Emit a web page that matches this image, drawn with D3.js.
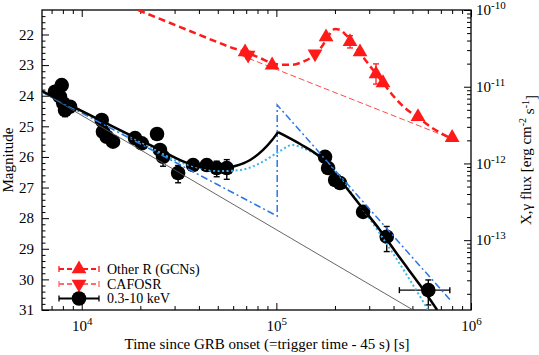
<!DOCTYPE html>
<html>
<head>
<meta charset="utf-8">
<script src="https://cdn.jsdelivr.net/npm/d3@7"></script>
<style>
    body { margin: 0; background: #fff; }
    svg { display: block; font-family: "Liberation Serif", "DejaVu Serif", serif; }
    svg text { font-family: "Liberation Serif", "DejaVu Serif", serif; }
</style>
</head>
<body>
<div id="chart"></div>
<script>
// X-ray light curve, 0.3-10 keV (right axis, flux)
const xrayTime = [7290, 7890, 7730, 8040, 8710, 8210, 12670, 12860, 13440, 14480, 18790, 20330, 24370,
    25240, 26170, 31270, 37330, 43880, 49370, 55610, 177900, 184400, 200500, 212500, 279000, 369000, 603500];
const xrayFlux = [8.61e-12, 1.05e-11, 7.41e-12, 6.08e-12, 5.49e-12, 4.97e-12, 3.68e-12, 2.59e-12, 2.23e-12,
    1.92e-12, 2.14e-12, 1.83e-12, 2.42e-12, 1.50e-12, 1.22e-12, 7.50e-13, 9.53e-13, 9.53e-13, 8.71e-13,
    8.71e-13, 1.22e-12, 8.71e-13, 6.08e-13, 5.55e-13, 2.34e-13, 1.11e-13, 2.23e-14];
const xrayFluxErr = [0.4e-12, 0.5e-12, 0.4e-12, 0.3e-12, 0.3e-12, 0.9e-12, 0.2e-12, 0.15e-12, 0.15e-12,
    0.12e-12, 0.12e-12, 0.1e-12, 0.12e-12, 0.1e-12, 0.3e-12, 1.9e-13, 0.5e-13, 0.5e-13, 2.0e-13,
    2.5e-13, 0.6e-13, 0.5e-13, 0.4e-13, 0.3e-13, 0.15e-13, 0.4e-13, 0.8e-14];
const xrayTimeErr = [0, 0, 0, 0, 0, 0, 0, 0, 0, 0, 0, 0, 0, 0, 0, 0, 0, 0, 0, 0, 0, 0, 0, 0, 0, 0, 175000];

// optical R band (left axis, magnitude)
const otherRTime = [69060, 95100, 180000, 239000, 269000, 325000, 353000, 534000, 800000];
const otherRMag = [22.57, 23.00, 22.08, 22.24, 22.57, 23.29, 23.58, 24.69, 25.37];
const otherRErr = [0.1, 0.05, 0.05, 0.2, 0.05, 0.33, 0.05, 0.05, 0.05];
const cafosTime = [71600, 158000];
const cafosMag = [22.67, 22.63];
const cafosErr = [0.12, 0.05];

// model curves
const totalRiseTime = [6250, 9800, 15730, 25240, 33950, 43050, 51470, 61440, 73350, 85480, 95100, 102000];
const totalRiseFlux = [8.79e-12, 4.97e-12, 2.72e-12, 1.50e-12, 1.04e-12, 8.71e-13, 8.45e-13, 9.25e-13,
    1.11e-12, 1.50e-12, 2.02e-12, 2.56e-12];
const totalDecayTime = [102000, 132500, 167900, 212500, 269000, 341000, 432000, 547000, 670000];
const totalDecayFlux = [2.56e-12, 1.79e-12, 1.21e-12, 6.08e-13, 2.87e-13, 1.35e-13, 5.84e-14, 2.60e-14, 1.23e-14];
const smoothTime = [6250, 12420, 22440, 31990, 40550, 51470, 65160, 82440, 104500, 120500, 140600,
    167900, 212500, 269000, 353000, 458000, 602000];
const smoothFlux = [8.53e-12, 3.68e-12, 1.64e-12, 1.04e-12, 8.71e-13, 7.96e-13, 8.20e-13, 1.01e-12,
    1.45e-12, 1.74e-12, 1.54e-12, 1.21e-12, 6.46e-13, 2.87e-13, 1.06e-13, 3.84e-14, 1.23e-14];
const jumpTime = [6250, 101000, 101000, 782000];
const jumpFlux = [8.53e-12, 2.06e-13, 5.77e-12, 1.66e-14];
const powerTime = [6250, 504000];
const powerFlux = [8.53e-12, 1.23e-14];

const opticalModelTime = [17300, 25240, 40550, 57830, 69060, 82440, 95100, 107000, 120500, 135600, 152600,
    167900, 180100, 191100, 200300, 212500, 228200, 247800, 269000, 302800, 341000, 398000, 458000,
    528000, 631000, 800000];
const opticalModelMag = [21.07, 21.49, 22.02, 22.41, 22.57, 22.77, 22.93, 22.99, 22.99, 22.90, 22.73,
    22.47, 22.18, 21.92, 21.82, 21.85, 22.02, 22.28, 22.60, 23.03, 23.45, 24.00, 24.40, 24.69, 25.05, 25.41];
const opticalPowerTime = [65160, 800000];
const opticalPowerMag = [22.67, 25.41];

// axes
const timeDomain = [6250, 1e6];
const magDomain = [31, 21.2];
const fluxDomain = [1.23e-14, 1e-10];
const timeMajor = [1e4, 1e5, 1e6];
const magMajor = [22, 23, 24, 25, 26, 27, 28, 29, 30, 31];
const fluxMajor = [1e-13, 1e-12, 1e-11, 1e-10];
const legendLabels = ['Other R (GCNs)', 'CAFOSR', '0.3-10 keV'];

const FONT = '"Liberation Serif", "DejaVu Serif", serif';
const zip = (a, b) => a.map((v, i) => [v, b[i]]);

document.addEventListener('DOMContentLoaded', () => drawChart(document.getElementById('chart')));

function drawChart(container) {
    const width = 539, height = 355;
    const margin = {top: 10, right: 68, bottom: 45, left: 42};
    const innerW = width - margin.left - margin.right;
    const innerH = height - margin.top - margin.bottom;

    const svg = d3.select(container).append('svg')
        .attr('width', width)
        .attr('height', height)
        .attr('font-family', FONT);
    const g = svg.append('g')
        .attr('transform', `translate(${margin.left},${margin.top})`);

    const x = d3.scaleLog().domain(timeDomain).range([0, innerW]);
    const yMag = d3.scaleLinear().domain(magDomain).range([innerH, 0]);
    const yFlux = d3.scaleLog().domain(fluxDomain).range([innerH, 0]);

    svg.append('defs').append('clipPath').attr('id', 'plot-clip')
        .append('rect').attr('width', innerW).attr('height', innerH);

    // minor tick values
    const timeMinor = [];
    [1e3, 1e4, 1e5].forEach(dec => d3.range(2, 10).forEach(k => {
        const v = k * dec;
        if (v > timeDomain[0] && v < timeDomain[1]) timeMinor.push(v);
    }));
    const fluxMinor = [];
    [1e-14, 1e-13, 1e-12, 1e-11].forEach(dec => d3.range(2, 10).forEach(k => {
        const v = k * dec;
        if (v > fluxDomain[0] && v < fluxDomain[1]) fluxMinor.push(v);
    }));
    const magMinor = d3.range(21.4, 31, 0.2).filter(v => Math.abs(v - Math.round(v)) > 0.01);

    const styleAxis = sel => {
        sel.attr('font-family', FONT);
        sel.select('.domain').remove();
        sel.selectAll('.tick line').attr('stroke', '#000').attr('stroke-width', 1);
        sel.selectAll('.tick text').attr('fill', '#000').attr('font-size', '15px');
    };
    const powerLabel = sel => sel.selectAll('.tick text').each(function(d) {
        const t = d3.select(this);
        t.text('10');
        t.append('tspan').attr('dy', '-0.55em').attr('font-size', '11px')
            .text(Math.round(Math.log10(d)));
    });

    // bottom / top
    g.append('g').attr('transform', `translate(0,${innerH})`)
        .call(d3.axisBottom(x).tickValues(timeMajor).tickSizeInner(-7).tickPadding(10).tickFormat(d => d))
        .call(styleAxis).call(powerLabel);
    g.append('g').attr('transform', `translate(0,${innerH})`)
        .call(d3.axisBottom(x).tickValues(timeMinor).tickSizeInner(-4).tickFormat(''))
        .call(styleAxis);
    g.append('g')
        .call(d3.axisTop(x).tickValues(timeMajor).tickSizeInner(-7).tickFormat(''))
        .call(styleAxis);
    g.append('g')
        .call(d3.axisTop(x).tickValues(timeMinor).tickSizeInner(-4).tickFormat(''))
        .call(styleAxis);

    // left magnitude
    g.append('g')
        .call(d3.axisLeft(yMag).tickValues(magMajor).tickSizeInner(-7).tickPadding(8).tickFormat(d3.format('d')))
        .call(styleAxis);
    g.append('g')
        .call(d3.axisLeft(yMag).tickValues(magMinor).tickSizeInner(-3.5).tickFormat(''))
        .call(styleAxis);

    // right flux
    g.append('g').attr('transform', `translate(${innerW},0)`)
        .call(d3.axisRight(yFlux).tickValues(fluxMajor).tickSizeInner(-7).tickPadding(5).tickFormat(d => d))
        .call(styleAxis).call(powerLabel);
    g.append('g').attr('transform', `translate(${innerW},0)`)
        .call(d3.axisRight(yFlux).tickValues(fluxMinor).tickSizeInner(-4).tickFormat(''))
        .call(styleAxis);

    g.append('rect')
        .attr('width', innerW).attr('height', innerH)
        .attr('fill', 'none').attr('stroke', '#000').attr('stroke-width', 1.3);

    // axis titles
    svg.append('text')
        .attr('x', 267).attr('y', 349)
        .attr('text-anchor', 'middle').attr('font-size', '15px')
        .text('Time since GRB onset (=trigger time - 45 s) [s]');
    svg.append('text')
        .attr('transform', 'translate(13,160) rotate(-90)')
        .attr('text-anchor', 'middle').attr('font-size', '15px')
        .text('Magnitude');
    const rTitle = svg.append('text')
        .attr('transform', 'translate(531,160) rotate(-90)')
        .attr('text-anchor', 'middle').attr('font-size', '15px');
    rTitle.append('tspan').text('X,γ flux [erg cm');
    rTitle.append('tspan').attr('dy', '-0.5em').attr('font-size', '10px').text('-2');
    rTitle.append('tspan').attr('dy', '0.5em').text(' s');
    rTitle.append('tspan').attr('dy', '-0.5em').attr('font-size', '10px').text('-1');
    rTitle.append('tspan').attr('dy', '0.5em').text(']');

    const plot = g.append('g').attr('clip-path', 'url(#plot-clip)');

    const fluxLine = curve => d3.line().x(d => x(d[0])).y(d => yFlux(d[1])).curve(curve);
    const magLine = curve => d3.line().x(d => x(d[0])).y(d => yMag(d[1])).curve(curve);

    // X-ray data points
    const xray = xrayTime.map((t, i) => ({t, f: xrayFlux[i], fe: xrayFluxErr[i], te: xrayTimeErr[i]}));
    const errG = plot.append('g').attr('stroke', '#000').attr('stroke-width', 1.4);
    xray.forEach(d => {
        const cx = x(d.t), cy = yFlux(d.f);
        const y1 = yFlux(d.f + d.fe), y2 = yFlux(Math.max(d.f - d.fe, 1e-16));
        errG.append('line').attr('x1', cx).attr('x2', cx).attr('y1', y1).attr('y2', y2);
        errG.append('line').attr('x1', cx - 3).attr('x2', cx + 3).attr('y1', y1).attr('y2', y1);
        errG.append('line').attr('x1', cx - 3).attr('x2', cx + 3).attr('y1', y2).attr('y2', y2);
        if (d.te > 0) {
            const x1 = x(d.t - d.te), x2 = x(d.t + d.te);
            errG.append('line').attr('x1', x1).attr('x2', x2).attr('y1', cy).attr('y2', cy);
            errG.append('line').attr('x1', x1).attr('x2', x1).attr('y1', cy - 3).attr('y2', cy + 3);
            errG.append('line').attr('x1', x2).attr('x2', x2).attr('y1', cy - 3).attr('y2', cy + 3);
        }
    });
    plot.selectAll('.xray-point')
        .data(xray)
        .enter()
        .append('circle')
        .attr('class', 'xray-point')
        .attr('cx', d => x(d.t))
        .attr('cy', d => yFlux(d.f))
        .attr('r', 7.3)
        .attr('fill', '#000');

    // X-ray models
    plot.append('path')
        .datum(zip(powerTime, powerFlux))
        .attr('d', fluxLine(d3.curveLinear))
        .attr('fill', 'none').attr('stroke', '#555').attr('stroke-width', 0.9);
    plot.append('path')
        .datum(zip(jumpTime, jumpFlux))
        .attr('d', fluxLine(d3.curveLinear))
        .attr('fill', 'none').attr('stroke', '#2a78e4').attr('stroke-width', 1.5)
        .attr('stroke-dasharray', '7,3,2,3');
    plot.append('path')
        .datum(zip(smoothTime, smoothFlux))
        .attr('d', fluxLine(d3.curveMonotoneX))
        .attr('fill', 'none').attr('stroke', '#3cb6ea').attr('stroke-width', 2)
        .attr('stroke-dasharray', '2,2.5');
    [zip(totalRiseTime, totalRiseFlux), zip(totalDecayTime, totalDecayFlux)].forEach(seg => {
        plot.append('path')
            .datum(seg)
            .attr('d', fluxLine(d3.curveMonotoneX))
            .attr('fill', 'none').attr('stroke', '#000').attr('stroke-width', 2.5);
    });

    // optical models
    plot.append('path')
        .datum(zip(opticalPowerTime, opticalPowerMag))
        .attr('d', magLine(d3.curveLinear))
        .attr('fill', 'none').attr('stroke', '#ff4a4a').attr('stroke-width', 1)
        .attr('stroke-dasharray', '6,3');
    plot.append('path')
        .datum(zip(opticalModelTime, opticalModelMag))
        .attr('d', magLine(d3.curveMonotoneX))
        .attr('fill', 'none').attr('stroke', '#ff1a1a').attr('stroke-width', 2.5)
        .attr('stroke-dasharray', '7,4');

    // optical points
    const drawOptical = (times, mags, errs, rotate) => {
        const pts = times.map((t, i) => ({t, m: mags[i], e: errs[i]}));
        const eg = plot.append('g').attr('stroke', '#ff1a1a').attr('stroke-width', 1.3);
        pts.forEach(d => {
            const cx = x(d.t);
            const y1 = yMag(d.m - d.e), y2 = yMag(d.m + d.e);
            eg.append('line').attr('x1', cx).attr('x2', cx).attr('y1', y1).attr('y2', y2);
            eg.append('line').attr('x1', cx - 3).attr('x2', cx + 3).attr('y1', y1).attr('y2', y1);
            eg.append('line').attr('x1', cx - 3).attr('x2', cx + 3).attr('y1', y2).attr('y2', y2);
        });
        plot.append('g').selectAll('path')
            .data(pts)
            .enter()
            .append('path')
            .attr('d', d3.symbol(d3.symbolTriangle).size(95))
            .attr('transform', d => `translate(${x(d.t)},${yMag(d.m)}) rotate(${rotate})`)
            .attr('fill', '#ff1a1a');
    };
    drawOptical(otherRTime, otherRMag, otherRErr, 0);
    drawOptical(cafosTime, cafosMag, cafosErr, 180);

    // legend
    const legend = svg.append('g');
    const rows = [
        {y: 269, color: '#ff1a1a', dash: '5,3', marker: 'up'},
        {y: 284, color: '#ff6b6b', dash: '5,3', marker: 'down'},
        {y: 298.5, color: '#000', dash: null, marker: 'circle'}
    ];
    rows.forEach((r, i) => {
        const row = legend.append('g').attr('transform', `translate(0,${r.y})`);
        row.append('line').attr('x1', 59).attr('x2', 99)
            .attr('stroke', r.color).attr('stroke-width', 1.8)
            .attr('stroke-dasharray', r.dash);
        [59, 99].forEach(cx => row.append('line')
            .attr('x1', cx).attr('x2', cx).attr('y1', -3).attr('y2', 3)
            .attr('stroke', r.color).attr('stroke-width', 1.3));
        if (r.marker === 'circle') {
            row.append('circle').attr('cx', 79).attr('r', 7.3).attr('fill', '#000');
        } else {
            row.append('path')
                .attr('d', d3.symbol(d3.symbolTriangle).size(95))
                .attr('transform', `translate(79,0) rotate(${r.marker === 'up' ? 0 : 180})`)
                .attr('fill', '#ff1a1a');
        }
        row.append('text')
            .attr('x', 107).attr('dy', '0.35em')
            .attr('font-size', '14px')
            .text(legendLabels[i]);
    });
}
</script>
</body>
</html>
